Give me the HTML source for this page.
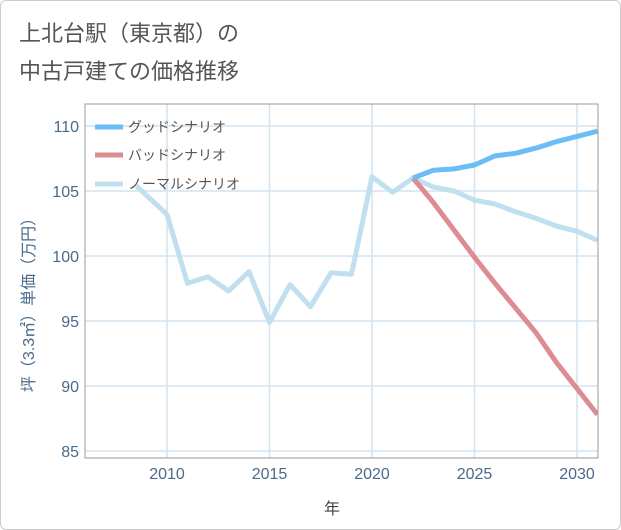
<!DOCTYPE html>
<html><head><meta charset="utf-8">
<style>
body{margin:0;background:#fff;}
#wrap{width:619px;height:528px;border:1px solid #ccc;border-radius:6px;position:relative;overflow:hidden;background:#fff;}
svg text{font-family:"Liberation Sans","Noto Sans CJK JP",sans-serif;}
</style></head><body>
<div id="wrap">
<svg id="chart" width="621" height="530">
<text x="18" y="40" font-size="22" fill="#555">上北台駅（東京都）の</text>
<text x="18" y="78" font-size="22" fill="#555">中古戸建ての価格推移</text>
<g id="grid"></g>
<g id="series"></g>
<rect x="84" y="103" width="513" height="354" fill="none" stroke="#999" stroke-width="1"/>
<g id="axes"></g>
<text x="331" y="513" font-size="16" fill="#444" text-anchor="middle">年</text>
<text transform="translate(33,300) rotate(-90)" font-size="16" fill="#4a6a8a" text-anchor="middle">坪（3.3㎡）単価（万円）</text>
<g id="legend"></g>
</svg>
</div>
<script>
const normalYears=[2008.5,2010,2011,2012,2013,2014,2015,2016,2017,2018,2019,2020,2021,2022,2023,2024,2025,2026,2027,2028,2029,2030,2031];
const normalValues=[105.4,103.2,97.9,98.4,97.3,98.8,94.9,97.8,96.1,98.7,98.6,106.1,104.9,106.0,105.3,105.0,104.3,104.0,103.4,102.9,102.3,101.9,101.2];
const goodYears=[2022,2023,2024,2025,2026,2027,2028,2029,2030,2031];
const goodValues=[106.0,106.6,106.7,107.0,107.7,107.9,108.3,108.8,109.2,109.6];
const badYears=[2022,2023,2024,2025,2026,2027,2028,2029,2030,2031];
const badValues=[106.0,104.1,102.0,99.9,97.9,96.0,94.1,91.8,89.8,87.8];
const xTicks=[2010,2015,2020,2025,2030];
const yTicks=[85,90,95,100,105,110];
const NS='http://www.w3.org/2000/svg';
function X(y){return 166+(y-2010)*20.5;}
function Y(v){return 450-(v-85)*13;}
function mk(t,a,p){const e=document.createElementNS(NS,t);for(const k in a)e.setAttribute(k,a[k]);p.appendChild(e);return e;}
const grid=document.getElementById('grid'),axes=document.getElementById('axes'),ser=document.getElementById('series'),leg=document.getElementById('legend');
xTicks.forEach(t=>{
 const l=mk('line',{x1:X(t),x2:X(t),y1:103,y2:457,stroke:'#d3e4ef','stroke-width':1.5},grid);
 
 
 const tx=mk('text',{x:X(t),y:478,'font-size':16,fill:'#4a6a8a','text-anchor':'middle'},axes);
 tx.textContent=t;
 
 
});
yTicks.forEach(t=>{
 const l=mk('line',{x1:84,x2:597,y1:Y(t),y2:Y(t),stroke:'#d3e4ef','stroke-width':1.5},grid);
 
 
 const tx=mk('text',{x:78,y:Y(t)+6,'font-size':16,fill:'#4a6a8a','text-anchor':'end'},axes);
 tx.textContent=t;
 
 
});
function line(xs,vs,c,name){
 const p=mk('polyline',{points:xs.map((y,i)=>X(y)+','+Y(vs[i])).join(' '),fill:'none',stroke:c,'stroke-width':5,'stroke-linejoin':'round'},ser);
 
 
}
const cp=mk('clipPath',{id:'cp'},ser);mk('rect',{x:84,y:103,width:513,height:354},cp);
ser.setAttribute('clip-path','url(#cp)');
line(normalYears,normalValues,'#c0e0ef','normal-scenario-line');
line(badYears,badValues,'#de8c94','bad-scenario-line');
line(goodYears,goodValues,'#6bbef5','good-scenario-line');
[['グッドシナリオ','#6bbef5',126],['バッドシナリオ','#de8c94',154],['ノーマルシナリオ','#c0e0ef',183]].forEach(([n,c,y],i)=>{
 const g=mk('g',{},leg);
 
 
 mk('line',{x1:94,x2:122,y1:y,y2:y,stroke:c,'stroke-width':5},g);
 const t=mk('text',{x:127,y:y+5,'font-size':14,fill:'#555'},g);t.textContent=n;
});
</script>
</body></html>
